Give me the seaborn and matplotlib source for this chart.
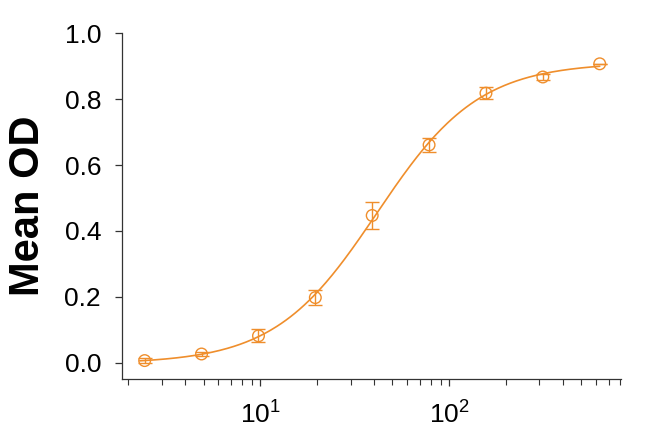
import seaborn as sns
import pandas as pd
import numpy as np
import matplotlib.pyplot as plt
from matplotlib.ticker import FixedLocator, FixedFormatter, LogLocator, NullFormatter

# concentrations (2-fold dilution) and mean OD
conc = [2.44, 4.88, 9.77, 19.53, 39.06, 78.13, 156.25, 312.5, 625.0]
mean_od = [0.007, 0.027, 0.082, 0.198, 0.447, 0.661, 0.818, 0.867, 0.907]
sd_od = [0.007, 0.005, 0.020, 0.022, 0.041, 0.020, 0.019, 0.008, 0.0]
xtick_vals = [10, 100]
xtick_labels = [r'$\mathregular{10^{1}}$', r'$\mathregular{10^{2}}$']

ORANGE = '#EF8E2C'

df = pd.DataFrame({'conc': conc, 'od': mean_od, 'sd': sd_od})

# 4PL fit: grid over ec50/hill, bottom/top by linear least squares
x = df.conc.values
y = df.od.values
ec50s, hills = np.meshgrid(np.logspace(1, 2.5, 400), np.linspace(0.5, 3.0, 300))
ec50s = ec50s.ravel()[:, None]
hills = hills.ravel()[:, None]
s = 1.0 / (1.0 + (ec50s / x[None, :]) ** hills)
u = 1.0 - s
a11 = (u * u).sum(1); a12 = (u * s).sum(1); a22 = (s * s).sum(1)
b1 = (u * y).sum(1); b2 = (s * y).sum(1)
det = a11 * a22 - a12 ** 2
bot = (a22 * b1 - a12 * b2) / det
top = (a11 * b2 - a12 * b1) / det
res = ((bot[:, None] * u + top[:, None] * s - y) ** 2).sum(1)
i = np.argmin(res)
p_bot, p_top, p_ec50, p_hill = bot[i], top[i], ec50s[i, 0], hills[i, 0]

xfit = np.logspace(np.log10(2.3), np.log10(625), 300)
fit = pd.DataFrame({'conc': xfit,
                    'od': p_bot + (p_top - p_bot) / (1 + (p_ec50 / xfit) ** p_hill)})

sns.set_style('ticks')
plt.rcParams['font.family'] = ['Liberation Sans', 'DejaVu Sans']
plt.rcParams['mathtext.fontset'] = 'custom'
plt.rcParams['mathtext.rm'] = 'Liberation Sans'

fig = plt.figure(figsize=(6.7, 4.36), dpi=100)
ax = fig.add_axes([0.182, 0.131, 0.745, 0.793])

sns.lineplot(x='conc', y='od', data=fit, color=ORANGE, lw=1.2, ax=ax)
ax.errorbar(df.conc, df.od, yerr=df.sd, fmt='none', ecolor=ORANGE,
            elinewidth=1.0, capsize=5, capthick=1.0)
sns.scatterplot(x='conc', y='od', data=df, marker='o', s=70,
                facecolor='none', edgecolor=ORANGE, linewidth=1.0, ax=ax)

ax.set_xscale('log')
ax.set_xlim(1.85, 811)
ax.set_ylim(-0.0485, 1.0)
ax.set_yticks([0.0, 0.2, 0.4, 0.6, 0.8, 1.0])
ax.set_yticklabels(['0.0', '0.2', '0.4', '0.6', '0.8', '1.0'])
ax.xaxis.set_major_locator(FixedLocator(xtick_vals))
ax.xaxis.set_major_formatter(FixedFormatter(xtick_labels))
ax.xaxis.set_minor_locator(LogLocator(base=10, subs=np.arange(2, 10)))
ax.xaxis.set_minor_formatter(NullFormatter())

ax.set_xlabel('')
ax.set_ylabel('Mean OD', fontsize=30, fontweight='bold', labelpad=12, color='black')
ax.tick_params(axis='both', which='major', labelsize=19, length=5, width=0.9,
               colors='#333333', labelcolor='black')
ax.tick_params(axis='y', pad=10)
ax.tick_params(axis='x', pad=11)
ax.tick_params(axis='x', which='minor', length=4, width=0.8, colors='#333333')
for side in ['left', 'bottom']:
    ax.spines[side].set_color('#333333')
    ax.spines[side].set_linewidth(0.9)
sns.despine(ax=ax)

plt.savefig('out.png', dpi=100)
